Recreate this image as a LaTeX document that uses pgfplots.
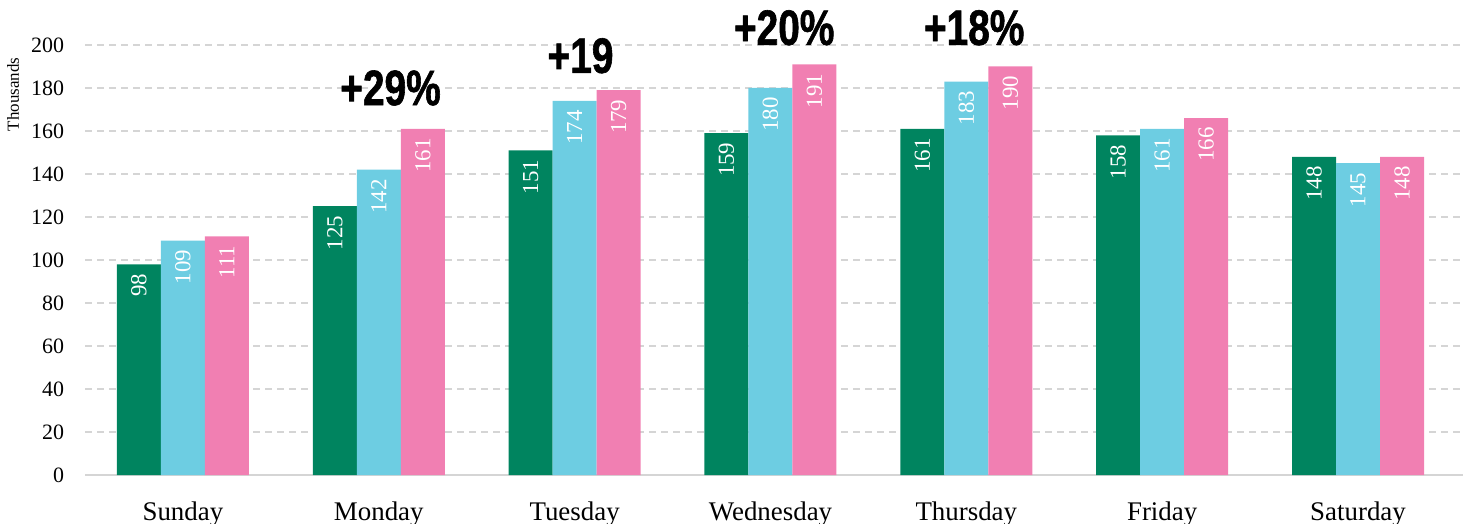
\documentclass[border=0pt]{standalone}
\usepackage{pgfplots}
\pgfplotsset{compat=1.18}
\usepackage{pgfplotstable}
\usepackage{fontspec}
\setmainfont{Liberation Serif}
\newfontfamily\condfont{Liberation Sans}[FakeStretch=0.78,FakeBold=1.2]
\definecolor{cgreen}{HTML}{00845F}
\definecolor{cblue}{HTML}{6DCDE2}
\definecolor{cpink}{HTML}{F17FB2}
\definecolor{cgrid}{HTML}{D5D5D5}
\pgfplotstableread{
x a b c
0 98 109 111
1 125 142 161
2 151 174 179
3 159 180 191
4 161 183 190
5 158 161 166
6 148 145 148
}\data
\begin{document}
\begin{tikzpicture}
\begin{axis}[
  scale only axis, width=689bp, height=215bp,
  xmin=-0.5, xmax=6.536, ymin=0, ymax=200,
  clip=false,
  /pgf/number format/assume math mode=true,
  ybar=0pt, bar width=22bp,
  xtick={0,...,6},
  xticklabels={Sunday,Monday,Tuesday,Wednesday,Thursday,Friday,Saturday},
  ytick={0,20,...,200},
  axis line style={draw=none},
  tick style={draw=none},
  ymajorgrids,
  grid style={cgrid, line width=1bp, dash pattern=on 3.5bp off 2.5bp},
  extra y ticks={0}, extra y tick labels={},
  extra y tick style={grid style={solid, cgrid, line width=1bp}},
  xticklabel style={font=\fontsize{13.5}{13.5}\selectfont, yshift=-5.5bp},
  yticklabel style={font=\fontsize{11}{11}\selectfont, xshift=-7bp},
  nodes near coords,
  every node near coord/.append style={rotate=90, anchor=east, text=white, font=\fontsize{11.5}{11.5}\selectfont, inner sep=4.5bp},
]
\addplot[fill=cgreen, draw=none] table[x=x,y=a] {\data};
\addplot[fill=cblue, draw=none] table[x=x,y=b] {\data};
\addplot[fill=cpink, draw=none] table[x=x,y=c] {\data};
\coordinate (A) at (rel axis cs:0,0);
\coordinate (B) at (rel axis cs:1,1);
\node[rotate=90, font=\fontsize{8.5}{8.5}\selectfont] at ([xshift=-36bp]axis cs:-0.5,177) {Thousands};
\node[font=\condfont\bfseries\fontsize{25}{25}\selectfont] at (axis cs:1.06,180) {+29\%};
\node[font=\condfont\bfseries\fontsize{25}{25}\selectfont] at (axis cs:2.03,195) {+19};
\node[font=\condfont\bfseries\fontsize{25}{25}\selectfont] at (axis cs:3.07,208) {+20\%};
\node[font=\condfont\bfseries\fontsize{25}{25}\selectfont] at (axis cs:4.04,208) {+18\%};
\end{axis}
\pgfresetboundingbox
\path[use as bounding box] ([xshift=-42.5bp,yshift=-24.5bp]A) rectangle ([yshift=22.5bp]B);
\end{tikzpicture}
\end{document}
